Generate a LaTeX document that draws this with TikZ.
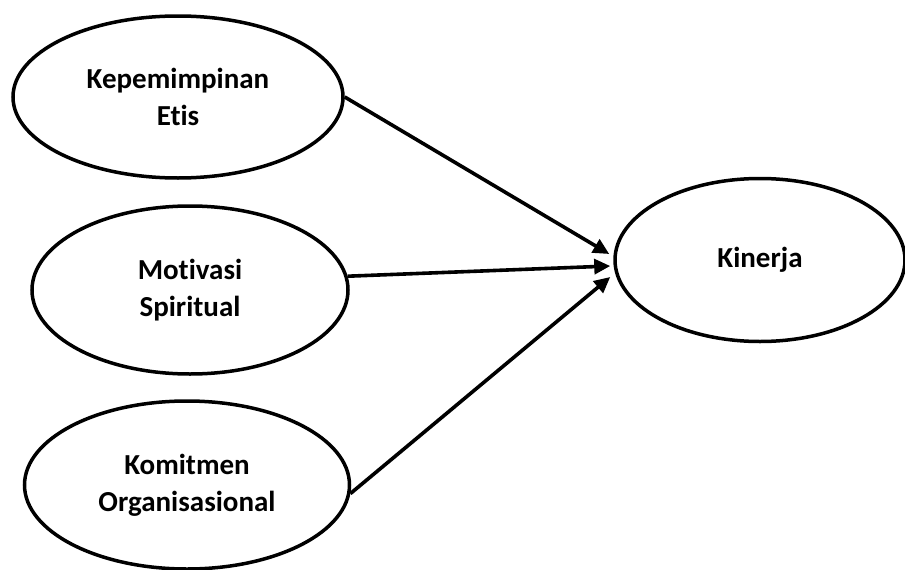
\documentclass[tikz,border=0pt]{standalone}
\usepackage{fontspec}
\setmainfont[Ligatures=NoCommon]{Carlito}
\usetikzlibrary{shapes.geometric,arrows.meta}
\begin{document}
\begin{tikzpicture}[x=1pt,y=1pt,
  oval/.style={draw=black, line width=3.5pt, ellipse, inner sep=0pt, align=center,
    font=\fontsize{29}{37}\selectfont\bfseries},
  link/.style={draw=black, line width=3.6pt, -{Triangle[length=16pt,width=15pt]}}]
\useasboundingbox (0,0) rectangle (905,-570);
\node[oval, minimum width=330pt, minimum height=162pt] (e1) at (178,-97) {Kepemimpinan\\Etis};
\node[oval, minimum width=316pt, minimum height=168pt] (e2) at (190,-290) {Motivasi\\Spiritual};
\node[oval, minimum width=325pt, minimum height=168pt] (e3) at (187,-485) {Komitmen\\Organisasional};
\node[oval, minimum width=290pt, minimum height=163pt] (k) at (760,-260) {Kinerja};
\draw[link] (e1.east) -- ([shift={(-4,6)}]k.west);
\draw[link] (e2.5.5) -- ([shift={(-3,-6)}]k.west);
\draw[link] (e3.-3) -- ([shift={(-3,-17)}]k.west);
\end{tikzpicture}
\end{document}
